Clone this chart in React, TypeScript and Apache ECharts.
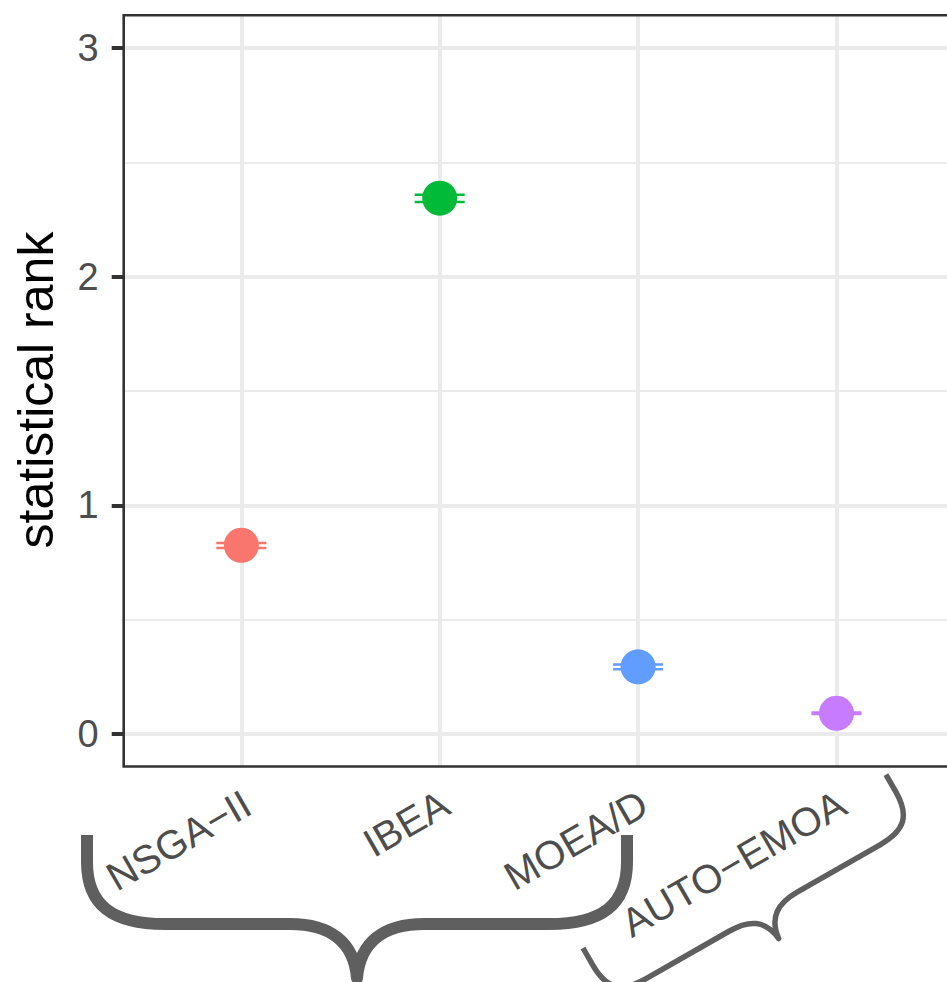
import React, { useEffect, useRef } from "react";
import * as echarts from "echarts";

const categories = ["NSGA−II", "IBEA", "MOEA/D", "AUTO−EMOA"];
const means = [0.825, 2.344, 0.293, 0.09];
const lower = [0.813, 2.327, 0.283, 0.087];
const upper = [0.835, 2.359, 0.303, 0.093];
const colors = ["#F8766D", "#00BA38", "#619CFF", "#C77CFF"];
const yMajorTicks = [0, 1, 2, 3];
const yMinorTicks = [0.5, 1.5, 2.5];
const yTitle = "statistical rank";

const FONT = "'Liberation Sans', Arial, Helvetica, sans-serif";

const brace1 =
  "M 87 835 L 87 862 C 87 905 112 924 165 924 L 290 924 C 330 924 354 942 357 978 C 360 942 384 924 424 924 L 549 924 C 602 924 627 905 627 862 L 627 835";
const brace2 =
  "M 0 0 L 0 20 C 0 48 12 58 40 58 L 135 58 C 158 58 172 66 174.5 89 C 177 66 191 58 214 58 L 309 58 C 337 58 349 48 349 20 L 349 0";

let registered = false;
function registerBraces() {
  if (registered) return;
  echarts.graphic.registerShape("brace1", echarts.graphic.extendPath(brace1, {}) as any);
  echarts.graphic.registerShape("brace2", echarts.graphic.extendPath(brace2, {}) as any);
  registered = true;
}

export default function App() {
  const ref = useRef<HTMLDivElement>(null);
  useEffect(() => {
    if (!ref.current) return;
    registerBraces();
    const chart = echarts.init(ref.current, undefined, { renderer: "svg" });
    const xVals = categories.map((_, i) => i + 1);
    // label anchors nudged slightly right of the ticks, as in the reference
    const xLabelVals = xVals.map((v) => v + 0.03);
    const option: any = {
      animation: false,
      backgroundColor: "#ffffff",
      textStyle: { fontFamily: FONT },
      grid: {
        left: 123.7,
        top: 15.3,
        bottom: 215.5,
        right: 4.5,
        show: true,
        z: 10,
        backgroundColor: "transparent",
        borderColor: "#333333",
        borderWidth: 2.6,
      },
      xAxis: {
        type: "value",
        min: 0.407,
        max: 4.6,
        axisLine: { show: false },
        splitLine: { show: false },
        axisTick: {
          show: true,
          length: 12,
          customValues: xVals,
          lineStyle: { color: "#333333", width: 4 },
        },
        axisLabel: {
          show: true,
          customValues: xLabelVals,
          rotate: 30,
          margin: 34,
          fontSize: 40,
          fontFamily: FONT,
          color: "#4D4D4D",
          formatter: (v: number) => categories[Math.round(v) - 1] ?? "",
        },
      },
      yAxis: {
        type: "value",
        min: -0.143,
        max: 3.144,
        axisLine: { show: false },
        splitLine: { show: false },
        axisTick: {
          show: true,
          length: 12,
          customValues: yMajorTicks,
          lineStyle: { color: "#333333", width: 4 },
        },
        axisLabel: {
          show: true,
          customValues: yMajorTicks,
          margin: 25,
          fontSize: 38,
          fontFamily: FONT,
          color: "#4D4D4D",
          formatter: (v: number) => String(Math.round(v)),
        },
      },
      series: [
        {
          type: "line",
          data: [],
          z: 1,
          silent: true,
          markLine: {
            z: 1,
            silent: true,
            symbol: "none",
            label: { show: false },
            animation: false,
            data: [
              ...yMinorTicks.map((v) => ({ yAxis: v, lineStyle: { color: "#EBEBEB", width: 2, type: "solid" } })),
              ...yMajorTicks.map((v) => ({ yAxis: v, lineStyle: { color: "#EBEBEB", width: 4, type: "solid" } })),
              ...xVals.map((v) => ({ xAxis: v, lineStyle: { color: "#EBEBEB", width: 4, type: "solid" } })),
            ],
          },
        },
        {
          type: "custom",
          z: 3,
          silent: true,
          data: categories.map((_, i) => [i + 1, lower[i], upper[i]]),
          encode: { x: 0, y: [1, 2] },
          renderItem: (params: any, api: any) => {
            const x = api.value(0);
            const lo = api.coord([x, api.value(1)]);
            const hi = api.coord([x, api.value(2)]);
            const hw = api.size([0.126, 0])[0];
            const c = colors[params.dataIndex];
            return {
              type: "group",
              children: [
                { type: "line", shape: { x1: lo[0] - hw, y1: lo[1], x2: lo[0] + hw, y2: lo[1] }, style: { stroke: c, lineWidth: 2.5 } },
                { type: "line", shape: { x1: hi[0] - hw, y1: hi[1], x2: hi[0] + hw, y2: hi[1] }, style: { stroke: c, lineWidth: 2.5 } },
              ],
            };
          },
        },
        {
          type: "scatter",
          z: 6,
          symbol: "circle",
          symbolSize: 35,
          silent: true,
          itemStyle: { opacity: 1 },
          data: categories.map((_, i) => ({ value: [i + 1, means[i]], itemStyle: { color: colors[i], opacity: 1 } })),
        },
      ],
      graphic: [
        {
          type: "text",
          x: 36,
          y: 390,
          rotation: Math.PI / 2,
          style: {
            text: yTitle,
            fontSize: 50,
            fontFamily: FONT,
            fill: "#000000",
            align: "center",
            verticalAlign: "middle",
          },
        },
        {
          type: "brace1",
          x: 0,
          y: 0,
          silent: true,
          style: { stroke: "#5F5F5F", fill: "none", lineWidth: 12, lineJoin: "round" },
        },
        {
          type: "brace2",
          x: 583,
          y: 948,
          rotation: (29.8 * Math.PI) / 180,
          silent: true,
          style: { stroke: "#5F5F5F", fill: "none", lineWidth: 5.5, lineJoin: "round" },
        },
      ],
    };
    chart.setOption(option);
    return () => chart.dispose();
  }, []);
  return (
    <div style={{ position: "fixed", left: 0, top: 0, width: 947, height: 982, overflow: "hidden", background: "#fff" }}>
      <div ref={ref} style={{ position: "absolute", left: 0, top: 0, width: 960, height: 982 }} />
    </div>
  );
}
